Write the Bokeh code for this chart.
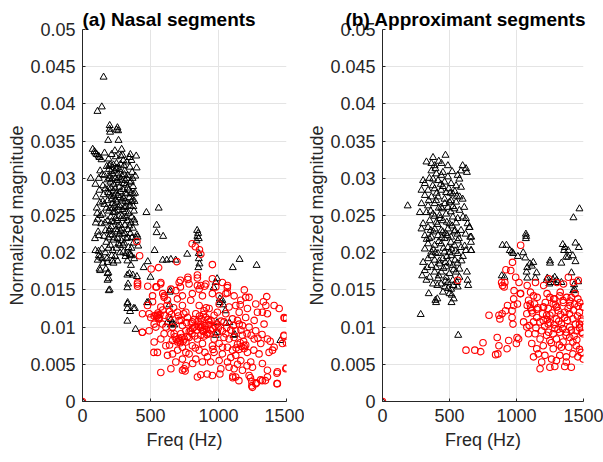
from bokeh.plotting import figure
from bokeh.layouts import row
from bokeh.models import FixedTicker, Range1d
from bokeh.embed import file_html
from bokeh.resources import INLINE

# ---- axis ticks / labels ----
x_ticks = [0, 500, 1000, 1500]
y_ticks = [0, 0.005, 0.01, 0.015, 0.02, 0.025, 0.03, 0.035, 0.04, 0.045, 0.05]
y_tick_labels = ["0", "0.005", "0.01", "0.015", "0.02", "0.025", "0.03", "0.035", "0.04", "0.045", "0.05"]
titles = ["(a) Nasal segments", "(b) Approximant segments"]
x_label = "Freq (Hz)"
y_label = "Normalized magnitude"

# ---- data: (frequency Hz, magnitude x 1e-3) ----
nasal_tri = [
    (0, 0), (155, 43.6), (142, 39.6), (110, 39.0), (200, 37.1), (200, 36.6), (203, 36.2), (257, 36.8),
    (262, 36.4), (250, 36.5), (189, 35.1), (265, 35.1), (75, 33.9), (88, 33.6), (95, 33.4), (105, 33.2),
    (118, 33.0), (125, 32.8), (60, 30.0), (120, 30.0),
    (95, 29.2), (100, 27.5), (105, 26.0), (110, 24.5), (98, 24.0), (115, 22.8), (120, 22.3), (108, 25.3),
    (125, 28.4), (130, 31.0), (128, 26.7), (92, 21.9), (118, 20.2), (130, 19.4), (112, 19.0),
    (140, 32.5), (145, 30.5), (150, 29.0), (155, 27.8), (160, 26.5), (148, 25.2), (165, 24.0), (170, 23.0),
    (158, 22.2), (175, 21.4), (142, 20.5), (168, 20.0), (180, 19.2), (172, 17.8), (150, 18.6), (178, 31.6),
    (162, 33.4), (185, 29.8), (188, 28.1),
    (192, 32.6), (195, 31.2), (200, 30.3), (205, 29.5), (210, 28.7), (198, 27.9), (215, 27.2), (220, 26.6),
    (202, 26.0), (225, 25.4), (208, 24.8), (230, 24.1), (212, 23.5), (196, 22.9), (218, 22.4), (226, 21.7),
    (205, 21.0), (222, 20.3), (214, 33.2), (228, 31.8), (209, 30.9), (218, 29.9), (226, 28.3), (194, 25.6),
    (232, 27.6), (200, 23.2), (190, 20.6), (215, 19.6), (228, 18.6),
    (238, 33.7), (245, 32.9), (250, 32.0), (255, 31.4), (260, 30.6), (242, 30.0), (265, 29.4), (270, 28.8),
    (248, 28.0), (275, 27.4), (252, 26.8), (262, 26.1), (240, 25.5), (268, 24.9), (256, 24.3), (278, 23.7),
    (246, 23.1), (272, 22.5), (258, 21.9), (264, 21.2), (250, 20.6), (276, 20.0), (240, 19.5), (258, 18.9),
    (282, 33.0), (270, 31.2), (244, 27.1), (266, 25.7), (280, 22.9),
    (288, 33.9), (295, 33.1), (300, 32.4), (305, 31.7), (310, 31.0), (292, 30.3), (315, 29.7), (320, 29.1),
    (298, 28.5), (325, 27.9), (303, 27.3), (330, 26.7), (308, 26.1), (318, 25.5), (290, 24.9), (328, 24.3),
    (312, 23.7), (335, 23.1), (296, 22.5), (322, 21.9), (306, 21.3), (338, 20.7), (300, 20.1), (316, 19.5),
    (330, 18.9), (286, 21.6), (340, 28.4), (326, 32.2), (332, 30.4), (314, 26.9), (302, 24.6),
    (345, 32.8), (352, 33.2), (360, 32.4), (348, 31.5), (365, 30.8), (355, 29.6), (372, 28.9), (358, 28.0),
    (368, 27.1), (350, 26.3), (378, 25.6), (362, 24.8), (385, 24.0), (370, 23.3), (352, 22.6), (392, 22.0),
    (375, 21.3), (360, 20.6), (348, 19.8), (395, 33.0), (400, 22.4), (405, 22.1), (388, 30.3), (382, 26.9),
    (398, 31.4), (380, 19.2), (410, 20.9), (356, 18.3),
    (185, 27.0), (192, 28.6), (198, 30.0), (205, 31.8), (212, 27.6), (218, 25.9), (224, 30.6), (230, 29.2),
    (236, 26.4), (242, 28.6), (248, 31.3), (254, 29.7), (260, 27.7), (266, 30.1), (272, 26.3), (278, 28.2),
    (284, 29.9), (290, 27.1), (296, 25.8), (302, 29.3), (308, 30.5), (314, 28.0), (320, 26.2), (326, 30.0),
    (332, 28.7), (338, 25.3), (344, 27.4), (350, 29.4), (356, 24.0), (362, 26.9), (368, 30.0), (374, 27.9),
    (380, 24.4), (386, 28.0), (204, 22.4), (214, 24.2), (234, 22.0), (244, 24.6), (254, 22.8), (262, 23.6),
    (274, 21.0), (288, 23.3), (298, 21.0), (310, 22.6), (320, 24.8), (334, 22.0), (344, 23.6), (364, 22.0),
    (374, 26.2), (184, 24.3), (176, 26.0), (168, 28.6), (160, 30.4), (150, 26.9), (138, 23.9), (132, 25.0),
    (190, 22.0), (196, 31.7), (236, 31.0), (280, 31.9),
    (95, 20.3), (120, 19.6), (145, 19.2), (184, 18.7), (220, 18.9), (130, 17.6), (190, 17.3), (192, 16.5),
    (320, 19.9), (350, 19.7), (360, 19.6), (125, 17.8), (184, 17.2), (184, 16.3), (193, 14.9), (200, 15.0),
    (470, 25.4), (560, 26.0), (545, 23.7), (545, 22.7), (593, 22.2), (530, 20.3), (843, 23.0), (850, 22.6),
    (845, 22.2), (838, 21.6), (855, 21.9), (770, 19.8), (855, 19.9), (855, 19.2), (860, 18.5), (852, 18.0),
    (1155, 19.1), (1105, 18.0), (1280, 18.3), (590, 19.0), (620, 19.0), (650, 19.1), (685, 19.0), (450, 18.0),
    (480, 18.8), (330, 17.0), (345, 17.2), (370, 17.0), (400, 16.8), (330, 15.3), (335, 15.8), (500, 16.7),
    (990, 16.5), (980, 16.0), (965, 15.3), (647, 14.9), (1028, 13.6), (1010, 13.8), (332, 13.3), (475, 13.3),
    (330, 13.1), (330, 12.5), (375, 12.5), (385, 12.5), (350, 12.1), (330, 10.8), (390, 9.7), (485, 13.3),
    (623, 10.6), (650, 10.3), (675, 10.3), (990, 10.6), (1055, 10.5), (990, 9.3), (1110, 8.9), (1455, 8.2),
    (640, 13.0), (640, 14.7), (650, 11.0), (660, 10.5), (1080, 10.6), (1120, 9.0), (980, 8.9),
    (1010, 13.3), (1035, 13.0), (1050, 12.2),
]

nasal_circ = [
    (0, 0), (404, 15.8), (441, 11.8), (441, 9.3), (527, 8.0), (576, 3.9), (502, 11.3), (527, 11.5), (551, 11.6),
    (563, 11.3), (590, 14.5), (600, 14.2), (515, 14.2), (540, 15.4), (576, 16.0), (650, 4.4), (735, 4.2),
    (747, 4.4), (810, 5.1), (845, 3.3), (955, 3.5), (1017, 4.4), (1078, 4.6), (1127, 3.3), (1150, 2.8),
    (1225, 3.5), (1250, 1.9), (1274, 2.4), (1323, 2.8), (1360, 3.3), (1433, 2.4), (1433, 4.0), (1495, 4.4),
    (1470, 7.8), (1482, 11.3), (1482, 8.9), (1360, 8.4), (1298, 6.4), (1397, 6.9), (1237, 5.3), (1164, 5.5),
    (1188, 7.5), (1103, 6.9), (1029, 6.4), (968, 6.6), (858, 6.9), (919, 6.0), (784, 6.4), (735, 5.7),
    (662, 6.4), (613, 7.5), (576, 8.4), (674, 9.1), (711, 8.2), (784, 8.6), (760, 9.5), (821, 10.0),
    (882, 9.5), (845, 8.4), (931, 9.1), (968, 8.4), (1029, 9.5), (1078, 8.4), (1127, 9.5), (1176, 8.9),
    (1152, 10.4), (1225, 10.0), (1274, 9.5), (1335, 10.4), (1360, 11.8), (1286, 12.0), (1213, 12.5),
    (1152, 12.0), (1103, 11.1), (1054, 11.8), (1005, 13.1), (1054, 14.5), (1066, 15.6), (955, 14.5),
    (907, 15.8), (845, 15.6), (784, 15.8), (711, 16.0), (650, 15.1), (698, 13.8), (735, 12.9), (796, 13.6),
    (858, 12.9), (882, 14.2), (931, 12.5), (968, 11.6), (907, 11.3), (833, 11.8), (772, 11.3), (711, 10.9),
    (637, 11.3), (588, 10.4), (539, 10.0), (490, 9.5), (662, 10.0), (735, 10.2), (808, 10.7), (870, 10.4),
    (931, 10.7), (992, 10.4), (1041, 10.7), (1200, 11.3), (1262, 10.9), (1323, 12.0), (1348, 12.9),
    (1409, 12.9), (1446, 12.5), (1262, 8.4), (1311, 7.8), (1372, 6.6), (1409, 7.3), (1323, 5.1), (1360, 4.2),
    (1250, 4.6), (1176, 4.2), (1115, 4.4), (1066, 5.3), (1005, 5.5), (943, 5.3), (882, 5.3), (833, 5.7),
    (760, 4.8), (686, 5.3), (625, 6.2), (551, 6.6), (735, 7.3), (808, 7.5), (882, 7.8), (955, 7.5),
    (1005, 7.8), (1066, 7.3), (1127, 6.2), (1213, 6.6), (662, 8.2), (600, 9.1), (527, 10.4), (490, 11.8),
    (478, 12.9), (515, 13.4), (576, 12.7), (625, 13.6), (686, 14.9), (735, 14.2), (808, 14.5), (858, 15.1),
    (980, 15.4), (1029, 16.0), (1005, 14.2), (1115, 14.2), (1164, 13.6), (1225, 14.0), (1274, 13.1),
    (1127, 12.9), (1176, 10.2), (1115, 8.6), (1054, 9.1), (992, 9.3), (870, 8.9), (796, 9.5), (723, 9.1),
    (650, 9.1), (613, 10.0), (563, 11.1), (698, 12.0), (760, 12.0), (894, 12.2), (992, 12.0), (1078, 12.7),
    (400, 21.5), (420, 19.6), (505, 17.8), (560, 18.0), (695, 18.8), (806, 21.2), (830, 20.8), (860, 20.4),
    (870, 19.8), (955, 18.4), (845, 17.0), (845, 16.6), (955, 16.5), (775, 16.7), (775, 16.4), (720, 16.3),
    (405, 16.0), (405, 15.5), (480, 15.5), (545, 15.4), (575, 15.8), (600, 14.0), (720, 15.4), (870, 15.6),
    (900, 15.5), (1065, 15.3), (1190, 15.0), (1065, 14.6), (1200, 14.0), (1355, 14.1), (1330, 13.4),
    (1160, 13.0), (1500, 11.2), (1500, 7.9), (1480, 8.8), (1500, 4.5), (440, 9.3), (525, 6.6), (755, 4.1),
    (917, 3.7), (870, 3.6), (1010, 3.7), (1105, 3.4), (1105, 3.2), (1235, 3.2), (1245, 2.7), (1245, 2.1),
    (1280, 2.5), (1310, 2.9), (1345, 2.8), (1430, 2.4), (1430, 3.8), (1485, 11.2),
    (540, 11.6), (555, 11.9), (560, 11.2), (548, 11.4), (570, 11.7), (690, 8.3), (700, 8.0), (710, 8.5),
    (720, 7.9), (730, 8.6), (740, 8.1), (750, 8.4), (680, 8.7), (760, 8.0), (770, 8.7), (880, 10.0),
    (890, 9.4), (900, 10.2), (910, 9.7), (920, 9.2), (930, 10.3), (895, 8.8), (915, 9.0), (940, 9.6),
    (870, 9.9), (800, 10.5), (810, 9.8), (820, 11.0), (850, 10.8), (860, 11.5), (1130, 7.2), (1140, 7.7),
    (1150, 7.0), (1160, 7.9), (1170, 7.4), (1185, 8.1), (1190, 7.1), (1200, 7.6),
    (590, 12.3), (605, 11.6), (620, 12.9), (640, 12.1), (655, 11.7), (670, 12.6), (705, 11.5), (725, 10.9),
    (745, 11.8), (765, 10.6), (785, 9.4), (805, 9.1), (825, 8.8), (840, 9.6), (855, 10.1), (875, 11.1),
    (890, 11.7), (910, 12.6), (925, 11.0), (945, 10.9), (960, 9.8), (975, 10.1), (1000, 9.9), (1020, 10.8),
    (1040, 8.6), (1060, 9.9), (1090, 9.6), (1110, 10.2), (1140, 10.9), (1165, 9.6), (1210, 9.1), (1240, 8.9),
    (1260, 6.9), (1290, 8.5), (1320, 9.0), (1380, 8.1), (640, 7.6), (700, 6.9), (760, 6.6), (830, 7.2),
    (900, 6.6), (960, 7.0), (1030, 7.3), (1090, 5.9), (1140, 5.0), (1210, 4.8),
]

approx_tri = [
    (0, 0), (377, 32.8), (470, 33.1), (328, 32.2), (365, 32.0), (389, 31.7), (598, 31.7), (623, 31.3),
    (586, 31.0), (630, 30.8), (488, 31.7), (365, 31.0), (402, 30.6), (438, 30.4), (451, 30.8), (561, 30.4),
    (574, 29.9), (303, 29.7), (316, 29.3), (377, 29.9), (414, 29.7), (463, 29.5), (512, 29.3), (549, 29.0),
    (488, 30.2), (586, 28.8),
    (291, 28.4), (340, 28.4), (389, 28.6), (438, 28.4), (475, 28.1), (525, 27.9), (316, 27.7), (365, 27.5),
    (414, 27.5), (463, 27.2), (512, 27.0), (549, 26.8), (598, 27.2), (291, 26.6), (340, 26.3), (389, 26.6),
    (438, 26.1), (488, 26.1), (537, 25.9), (574, 25.7), (188, 26.3), (279, 25.4), (328, 25.4), (377, 25.2),
    (426, 25.0), (475, 25.2), (525, 24.8), (561, 24.6), (352, 24.3), (402, 24.1), (451, 24.3), (500, 23.9),
    (303, 23.9), (623, 24.6), (635, 23.9),
    (291, 23.2), (340, 23.4), (389, 23.2), (438, 23.0), (488, 23.2), (537, 22.8), (586, 23.0), (647, 23.4),
    (316, 22.3), (365, 22.1), (414, 22.3), (463, 21.9), (512, 22.1), (561, 21.6), (655, 22.1), (340, 21.2),
    (389, 21.0), (438, 21.2), (488, 20.7), (537, 21.0), (586, 20.7), (660, 21.4), (316, 20.5), (365, 20.1),
    (414, 19.9), (463, 20.1), (512, 19.6), (561, 19.9), (623, 20.3), (660, 20.3), (340, 19.2), (389, 19.0),
    (451, 19.2),
    (303, 18.7), (365, 18.3), (426, 18.5), (475, 18.1), (525, 18.3), (574, 17.8), (316, 17.6), (389, 17.4),
    (438, 17.4), (500, 17.2), (549, 17.4), (352, 16.7), (414, 16.5), (475, 16.7), (525, 16.3), (574, 16.7),
    (630, 17.4), (296, 16.9), (328, 16.3), (377, 15.8), (438, 15.8), (488, 16.0), (635, 16.3), (640, 15.6),
    (409, 15.6), (463, 15.4), (512, 15.1), (561, 15.4), (345, 14.5), (451, 14.7), (500, 14.5), (409, 13.8),
    (532, 13.8), (517, 14.3),
    (601, 24.8), (650, 23.4), (662, 22.1), (662, 20.3), (613, 20.9), (285, 11.7), (400, 13.3), (515, 13.3),
    (565, 8.9), (395, 13.6),
    (350, 30.0), (420, 32.3), (450, 28.9), (520, 30.9), (540, 28.2), (400, 27.0), (500, 26.8), (430, 24.6),
    (470, 22.6), (520, 23.6), (360, 23.0), (420, 21.5), (480, 19.5), (540, 19.0), (400, 18.0), (455, 17.9),
    (500, 20.0), (560, 22.5), (380, 20.4), (445, 25.9), (510, 25.5), (550, 24.0), (330, 21.8), (590, 18.9),
    (345, 27.0), (360, 25.6), (375, 29.0), (390, 24.9), (405, 28.0), (420, 26.0), (435, 29.2), (450, 22.8),
    (465, 26.6), (480, 24.1), (495, 28.6), (510, 21.4), (525, 26.2), (540, 23.0), (555, 27.6), (570, 21.9),
    (350, 21.9), (365, 19.6), (380, 22.8), (395, 20.0), (410, 23.8), (425, 18.9), (440, 22.0), (455, 20.6),
    (470, 18.7), (485, 22.3), (500, 18.6), (515, 20.5), (530, 17.7), (545, 20.2), (560, 18.6), (335, 18.0),
    (420, 16.9), (470, 16.2), (490, 15.2), (530, 15.6), (555, 16.0), (395, 31.3), (440, 32.0), (505, 28.0),
    (575, 27.5), (610, 26.1), (620, 22.5), (600, 19.5),
    (895, 21.0), (925, 21.0), (950, 20.3), (975, 19.9), (965, 20.1), (1070, 22.5), (1070, 21.9), (1072, 22.2),
    (1050, 20.0), (1010, 19.5), (1065, 19.3), (1100, 18.5), (1125, 18.7), (1115, 18.2), (1150, 17.3),
    (1080, 18.0), (1075, 17.4), (1250, 18.9), (1250, 18.6), (1255, 16.0), (1270, 16.4), (1345, 21.1),
    (1360, 20.7), (1355, 20.3), (1385, 20.3), (1385, 19.4), (1370, 19.4), (1420, 19.6), (1440, 21.3),
    (1465, 20.7), (1335, 18.6), (1440, 18.8), (1425, 24.7), (1470, 25.9), (1335, 16.0), (1430, 15.7),
    (1435, 15.0), (890, 16.9), (910, 16.7), (1080, 16.6), (1140, 16.6), (1225, 16.3), (1230, 16.6),
    (1285, 16.7), (1300, 16.3), (1310, 16.0), (1460, 16.1), (1245, 15.8), (1410, 17.3), (1424, 14.9),
]

approx_circ = [
    (0, 0), (561, 16.3), (795, 11.6), (623, 6.9), (689, 6.9), (733, 6.7), (750, 7.9), (856, 8.6), (869, 7.5),
    (844, 6.3), (861, 6.4), (930, 7.1), (942, 8.2), (1004, 8.6), (1016, 8.4), (999, 7.8), (869, 11.6),
    (876, 11.1), (893, 11.8), (918, 12.2), (967, 12.2), (967, 11.3), (974, 10.4), (1053, 10.7), (1077, 10.0),
    (1176, 4.4), (1249, 4.6), (1286, 4.7), (1360, 4.7), (1409, 4.6), (979, 12.9), (979, 13.8), (1028, 14.5),
    (1090, 13.6), (1127, 14.2), (1114, 12.2), (1151, 11.3), (1200, 12.7), (1225, 11.6), (1274, 13.1),
    (1311, 12.2), (1348, 13.6), (1385, 12.5), (1434, 13.1), (1470, 12.0), (1483, 11.1), (1470, 10.4),
    (1495, 9.1), (1446, 9.5), (1397, 10.0), (1335, 10.4), (1286, 9.8), (1237, 10.4), (1188, 9.5),
    (1139, 9.1), (1114, 7.8), (1151, 7.1), (1200, 7.5), (1249, 8.2), (1298, 8.4), (1348, 8.0), (1397, 8.6),
    (1446, 7.5), (1483, 6.6), (1498, 5.7), (1421, 6.4), (1372, 6.0), (1323, 6.2), (1262, 5.7), (1212, 6.2),
    (1163, 6.4), (1127, 6.0), (1188, 5.3), (1298, 5.5), (1372, 5.3), (1458, 6.0), (1274, 7.1), (1335, 7.3),
    (1225, 8.9), (1176, 8.4), (1077, 11.8), (1102, 13.1), (1151, 12.4), (1249, 14.0), (1323, 14.2),
    (1409, 14.0), (1458, 13.8), (1495, 12.7), (1421, 11.1), (1360, 11.3), (1298, 11.1), (1249, 11.6),
    (1200, 10.9), (1127, 10.7), (1090, 9.1), (1274, 9.1), (1372, 9.3), (1421, 8.0), (1323, 9.3),
    (1237, 12.5), (1286, 13.8),
    (1031, 21.0), (970, 18.7), (957, 17.6), (921, 17.7), (913, 16.0), (908, 15.4), (994, 16.7), (1019, 16.0),
    (1080, 15.6), (1142, 16.0), (1203, 15.6), (1240, 16.5), (1301, 16.0), (1351, 15.8), (1387, 16.7),
    (1424, 16.0), (1461, 16.3), (982, 14.9), (1031, 14.5), (1105, 14.7), (1154, 14.0), (1228, 14.5),
    (1277, 13.8), (1326, 14.7), (1375, 14.0), (1437, 14.5), (1473, 13.3), (1498, 12.7), (933, 12.9),
    (1007, 13.1), (1080, 12.9), (1203, 12.7), (1301, 12.7), (1400, 12.9), (889, 16.0), (896, 15.6),
    (1210, 10.1), (1230, 11.0), (1250, 10.6), (1265, 11.9), (1280, 10.3), (1300, 12.7), (1315, 10.8),
    (1330, 11.7), (1345, 9.8), (1360, 12.0), (1380, 10.9), (1395, 11.8), (1410, 9.6), (1425, 12.3),
    (1440, 10.4), (1455, 11.5), (1470, 9.9), (1490, 10.8), (1215, 13.3), (1240, 9.3), (1290, 13.0),
    (1310, 9.7), (1350, 13.3), (1370, 8.9), (1400, 13.5), (1430, 8.8), (1460, 12.8), (1485, 9.3),
    (1195, 11.8), (1175, 10.7), (1160, 12.6), (1145, 9.9), (1135, 13.1), (1120, 11.9), (1105, 12.6),
    (1095, 10.2), (1260, 7.9), (1320, 7.6), (1390, 7.3), (1450, 8.3), (1470, 7.0),
]

MAG_UNIT = 1e-3
FONT = "Liberation Sans"
TXT = "#262626"


def make_panel(title, tri, circ, left, right, fwidth, title_offset):
    p = figure(frame_width=fwidth, frame_height=372,
               x_range=Range1d(0, 1500), y_range=Range1d(0, 0.05),
               output_backend="svg", toolbar_location=None,
               min_border_left=left, min_border_right=right,
               min_border_top=29, min_border_bottom=54)
    p.outline_line_color = None
    p.background_fill_color = "white"
    p.border_fill_color = "white"

    p.title.text = title
    p.title.text_font = FONT
    p.title.text_font_size = "19px"
    p.title.text_font_style = "bold"
    p.title.text_color = "black"
    p.title.align = "left"
    p.title.offset = title_offset
    p.title.standoff = 0

    p.xaxis.ticker = FixedTicker(ticks=x_ticks)
    p.yaxis.ticker = FixedTicker(ticks=y_ticks)
    p.yaxis.major_label_overrides = {t: l for t, l in zip(y_ticks, y_tick_labels)}
    p.xaxis.axis_label = x_label
    p.yaxis.axis_label = y_label
    for ax in (p.xaxis, p.yaxis):
        ax.axis_label_text_font = FONT
        ax.axis_label_text_font_size = "18px"
        ax.axis_label_text_font_style = "normal"
        ax.axis_label_text_color = TXT
        ax.major_label_text_font = FONT
        ax.major_label_text_font_size = "18px"
        ax.major_label_text_color = TXT
        ax.axis_line_color = TXT
        ax.major_tick_line_color = TXT
        ax.major_tick_in = 3
        ax.major_tick_out = 0
        ax.minor_tick_line_color = None
    p.yaxis.major_label_standoff = 7
    p.xaxis.major_label_standoff = 7
    p.yaxis.axis_label_standoff = 0
    p.xaxis.axis_label_standoff = 5

    p.grid.grid_line_color = "#e4e4e4"
    p.grid.grid_line_width = 1

    p.scatter([f for f, m in tri], [m * MAG_UNIT for f, m in tri], marker="triangle",
              size=7, line_color="black", fill_color=None, line_width=1)
    p.scatter([f for f, m in circ], [m * MAG_UNIT for f, m in circ], marker="circle",
              size=6.5, line_color="#ff0000", fill_color=None, line_width=1.1)
    return p


pa = make_panel(titles[0], nasal_tri, nasal_circ, 82, 18, 204, 0)
pb = make_panel(titles[1], approx_tri, approx_circ, 78, 20, 201, -37)

layout = row(pa, pb)
open("out.html", "w").write(file_html(layout, INLINE))
